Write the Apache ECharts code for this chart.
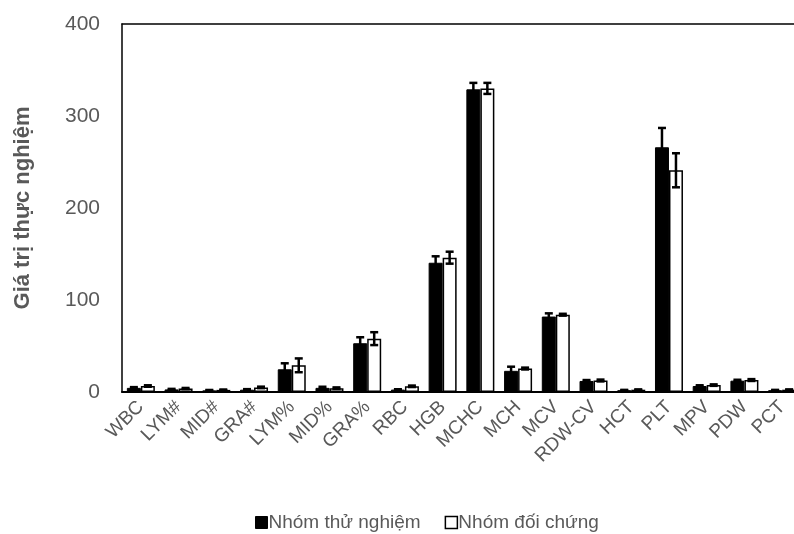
<!DOCTYPE html>
<html>
<head>
<meta charset="utf-8">
<script src="https://cdn.jsdelivr.net/npm/echarts@6/dist/echarts.min.js"></script>
<style>html,body{margin:0;padding:0;background:#fff}#c{width:794px;height:534px}</style>
</head>
<body>
<div id="c"></div>
<script>
var categories = ['WBC','LYM#','MID#','GRA#','LYM%','MID%','GRA%','RBC','HGB','MCHC','MCH','MCV','RDW-CV','HCT','PLT','MPV','PDW','PCT'];
var seriesNames = ['Nhóm thử nghiệm', 'Nhóm đối chứng'];
var expMean = [4.5, 2.8, 1.8, 2.5, 24.7, 4.5, 53, 2.6, 140.5, 329, 23, 82, 12, 2, 266, 6.5, 12.3, 2];
var expSD   = [0.8, 0.6, 0.4, 0.6, 6.5, 1.2, 6.5, 0.4, 7, 7, 4.5, 3.5, 1, 0.3, 21, 0.8, 1, 0.3];
var ctlMean = [6.5, 3.8, 2.3, 5.0, 29, 4.2, 58, 6.2, 146, 330, 25.5, 84, 12.5, 2.5, 241, 7.5, 13, 2.5];
var ctlSD   = [0.8, 0.6, 0.4, 0.8, 7.5, 0.8, 7, 0.8, 6.5, 6, 1, 1, 1, 0.3, 18.5, 0.8, 1, 0.3];
var yTicks = [0, 100, 200, 300, 400];

var FONT = '"Liberation Sans", Arial, sans-serif';
var BAR_W = 14;

function errData(mean, sd) {
  return mean.map(function (m, i) { return [i, m, sd[i]]; });
}
function errRender(offset) {
  return function (params, api) {
    var i = api.value(0), m = api.value(1), s = api.value(2);
    var top = api.coord([i, m + s]);
    var bot = api.coord([i, m - s]);
    var x = top[0] + offset;
    var cap = 4;
    var st = { stroke: '#000', lineWidth: 2.5 };
    return {
      type: 'group',
      children: [
        { type: 'line', shape: { x1: x, y1: top[1], x2: x, y2: bot[1] }, style: st },
        { type: 'line', shape: { x1: x - cap, y1: top[1], x2: x + cap, y2: top[1] }, style: st },
        { type: 'line', shape: { x1: x - cap, y1: bot[1], x2: x + cap, y2: bot[1] }, style: st }
      ]
    };
  };
}

var chart = echarts.init(document.getElementById('c'));
chart.setOption({
  animation: false,
  textStyle: { fontFamily: FONT },
  grid: { left: 122, width: 679, top: 24, height: 368, containLabel: false, outerBoundsMode: 'none' },
  legend: {
    left: 250, top: 508,
    itemWidth: 12, itemHeight: 12, itemGap: 24,
    textStyle: { fontSize: 19, color: '#595959', fontFamily: FONT, padding: [0, 0, 0, -4] },
    data: [
      { name: seriesNames[0], icon: 'rect', itemStyle: { color: '#000', borderColor: '#000', borderWidth: 1 } },
      { name: seriesNames[1], icon: 'rect', itemStyle: { color: '#fff', borderColor: '#000', borderWidth: 1.5 } }
    ]
  },
  xAxis: [{
    type: 'category',
    data: categories,
    axisLine: { show: true, lineStyle: { color: '#000', width: 2 } },
    axisTick: { show: false },
    axisLabel: { rotate: 45, fontSize: 19, color: '#595959', fontFamily: FONT, margin: 12, interval: 0 }
  }, {
    type: 'category',
    position: 'top',
    data: categories,
    axisLine: { show: true, onZero: false, lineStyle: { color: '#000', width: 1.5 } },
    axisTick: { show: false },
    axisLabel: { show: false }
  }],
  yAxis: {
    type: 'value', min: 0, max: 400, interval: 100,
    name: 'Giá trị thực nghiệm', nameLocation: 'middle', nameGap: 88,
    nameTextStyle: { fontSize: 22, fontWeight: 'bold', color: '#595959', fontFamily: FONT },
    axisLine: { show: true, lineStyle: { color: '#000', width: 1.5 } },
    axisTick: { show: false },
    splitLine: { show: false },
    axisLabel: { fontSize: 21, color: '#595959', fontFamily: FONT, margin: 22,
      formatter: function (v) { return yTicks.indexOf(v) >= 0 ? String(v) : ''; } }
  },
  series: [
    { name: seriesNames[0], type: 'bar', data: expMean, barWidth: BAR_W, barGap: '0%',
      itemStyle: { color: '#000', borderColor: '#000', borderWidth: 1 } },
    { name: seriesNames[1], type: 'bar', data: ctlMean, barWidth: BAR_W, barGap: '0%',
      itemStyle: { color: '#fff', borderColor: '#000', borderWidth: 1.5 } },
    { type: 'custom', name: 'errExp', data: errData(expMean, expSD), renderItem: errRender(-BAR_W / 2), z: 10, silent: true },
    { type: 'custom', name: 'errCtl', data: errData(ctlMean, ctlSD), renderItem: errRender(BAR_W / 2), z: 10, silent: true }
  ]
});
</script>
</body>
</html>
